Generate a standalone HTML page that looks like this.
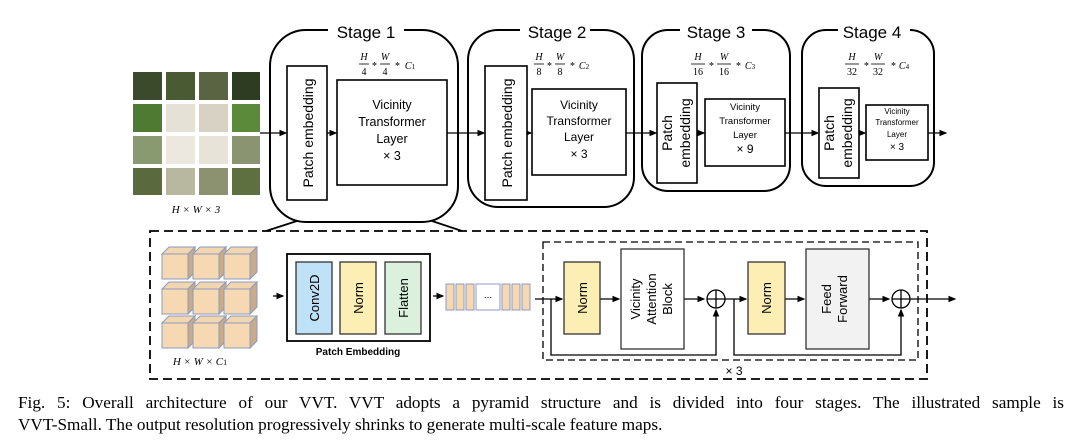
<!DOCTYPE html>
<html><head><style>
body{margin:0;background:#fff;width:1080px;height:448px;overflow:hidden}
svg{position:absolute;left:0;top:0}
.cap{position:absolute;left:18px;width:1046px;font-family:"Liberation Serif",serif;font-size:17.2px;text-align:justify;text-align-last:justify;white-space:nowrap}
</style></head><body>
<svg width="1080" height="448" viewBox="0 0 1080 448" font-family="Liberation Sans, sans-serif">
<defs><marker id="a" markerWidth="6" markerHeight="6" refX="5" refY="3" orient="auto"><path d="M0,0.5 L6,3 L0,5.5z" fill="#000"/></marker></defs>
<g fill="none" stroke="#000" stroke-width="2">
<rect x="270" y="30" width="188" height="192" rx="36"/>
<rect x="468" y="30" width="166" height="177" rx="30"/>
<rect x="642" y="30" width="148" height="161" rx="26"/>
<rect x="802" y="30" width="132" height="156" rx="24"/>
</g>
<g fill="#fff"><rect x="328" y="20" width="76" height="18"/><rect x="520" y="20" width="70" height="18"/><rect x="680" y="20" width="72" height="18"/><rect x="838" y="20" width="72" height="18"/></g>
<g font-size="17" text-anchor="middle"><text x="366" y="38">Stage 1</text><text x="557" y="38">Stage 2</text><text x="716" y="38">Stage 3</text><text x="872" y="38">Stage 4</text></g>
<g font-family="Liberation Serif,serif" font-style="italic" font-size="10" text-anchor="middle">
<text x="364" y="60">H</text><text x="364" y="75" font-style="normal">4</text><line x1="359" y1="64" x2="369" y2="64" stroke="#000" stroke-width=".8"/><text x="374" y="69">*</text>
<text x="385" y="60">W</text><text x="385" y="75" font-style="normal">4</text><line x1="380" y1="64" x2="390" y2="64" stroke="#000" stroke-width=".8"/><text x="397" y="69">*</text><text x="410" y="69">C<tspan font-size="7" font-style="normal">1</tspan></text>
<text x="539" y="60">H</text><text x="539" y="75" font-style="normal">8</text><line x1="534" y1="64" x2="544" y2="64" stroke="#000" stroke-width=".8"/><text x="549" y="69">*</text>
<text x="560" y="60">W</text><text x="560" y="75" font-style="normal">8</text><line x1="555" y1="64" x2="565" y2="64" stroke="#000" stroke-width=".8"/><text x="572" y="69">*</text><text x="584" y="69">C<tspan font-size="7" font-style="normal">2</tspan></text>
<text x="698" y="60">H</text><text x="698" y="75" font-style="normal">16</text><line x1="691" y1="64" x2="705" y2="64" stroke="#000" stroke-width=".8"/><text x="711" y="69">*</text>
<text x="724" y="60">W</text><text x="724" y="75" font-style="normal">16</text><line x1="717" y1="64" x2="731" y2="64" stroke="#000" stroke-width=".8"/><text x="738" y="69">*</text><text x="750" y="69">C<tspan font-size="7" font-style="normal">3</tspan></text>
<text x="852" y="60">H</text><text x="852" y="75" font-style="normal">32</text><line x1="845" y1="64" x2="859" y2="64" stroke="#000" stroke-width=".8"/><text x="866" y="69">*</text>
<text x="878" y="60">W</text><text x="878" y="75" font-style="normal">32</text><line x1="871" y1="64" x2="885" y2="64" stroke="#000" stroke-width=".8"/><text x="893" y="69">*</text><text x="904" y="69">C<tspan font-size="7" font-style="normal">4</tspan></text>
</g>
<!-- image -->
<g>
<rect x="133" y="72" width="29" height="28" fill="#3b4a2a"/><rect x="166" y="72" width="29" height="28" fill="#4a5a33"/><rect x="199" y="72" width="29" height="28" fill="#5a6442"/><rect x="232" y="72" width="28" height="28" fill="#2e3c22"/>
<rect x="133" y="104" width="29" height="28" fill="#4e7a32"/><rect x="166" y="104" width="29" height="28" fill="#e6e1d6"/><rect x="199" y="104" width="29" height="28" fill="#d8d2c4"/><rect x="232" y="104" width="28" height="28" fill="#5a8a3a"/>
<rect x="133" y="136" width="29" height="28" fill="#8a9a70"/><rect x="166" y="136" width="29" height="28" fill="#ece8df"/><rect x="199" y="136" width="29" height="28" fill="#e8e3d8"/><rect x="232" y="136" width="28" height="28" fill="#8a9470"/>
<rect x="133" y="168" width="29" height="27" fill="#5a6a3e"/><rect x="166" y="168" width="29" height="27" fill="#b8b8a0"/><rect x="199" y="168" width="29" height="27" fill="#8c9270"/><rect x="232" y="168" width="28" height="27" fill="#5e7040"/>
</g>
<text x="196" y="213" font-family="Liberation Serif,serif" font-style="italic" font-size="11" text-anchor="middle">H × W  × 3</text>
<g fill="none" stroke="#000" stroke-width="1.3">
<line x1="260" y1="133" x2="286" y2="133" marker-end="url(#a)"/>
<line x1="327" y1="133" x2="336" y2="133" marker-end="url(#a)"/>
<line x1="447" y1="133" x2="484" y2="133" marker-end="url(#a)"/>
<line x1="527" y1="133" x2="531" y2="133" marker-end="url(#a)"/>
<line x1="626" y1="133" x2="656" y2="133" marker-end="url(#a)"/>
<line x1="697" y1="133" x2="704" y2="133" marker-end="url(#a)"/>
<line x1="785" y1="133" x2="818" y2="133" marker-end="url(#a)"/>
<line x1="859" y1="133" x2="865" y2="133" marker-end="url(#a)"/>
<line x1="928" y1="133" x2="946" y2="133" marker-end="url(#a)"/>
</g>
<g fill="#fff" stroke="#000" stroke-width="1.6">
<rect x="287" y="66" width="40" height="134"/><rect x="337" y="80" width="110" height="105"/>
<rect x="485" y="66" width="42" height="134"/><rect x="532" y="89" width="94" height="86"/>
<rect x="657" y="83" width="40" height="100"/><rect x="705" y="99" width="80" height="67"/>
<rect x="819" y="88" width="40" height="90"/><rect x="866" y="105" width="62" height="55"/>
</g>
<g text-anchor="middle">
<text transform="translate(313,133) rotate(-90)" font-size="14">Patch embedding</text>
<text transform="translate(512,133) rotate(-90)" font-size="14">Patch embedding</text>
<text transform="translate(672,133) rotate(-90)" font-size="14">Patch</text><text transform="translate(690,133) rotate(-90)" font-size="14">embedding</text>
<text transform="translate(834,133) rotate(-90)" font-size="14">Patch</text><text transform="translate(852,133) rotate(-90)" font-size="14">embedding</text>
<g font-size="12.5"><text x="392" y="109">Vicinity</text><text x="392" y="126">Transformer</text><text x="392" y="143">Layer</text><text x="392" y="160">× 3</text></g>
<g font-size="12"><text x="579" y="109">Vicinity</text><text x="579" y="125">Transformer</text><text x="579" y="141">Layer</text><text x="579" y="158">× 3</text></g>
<g font-size="9.5"><text x="745" y="110">Vicinity</text><text x="745" y="124">Transformer</text><text x="745" y="138">Layer</text><text x="745" y="153" font-size="12">× 9</text></g>
<g font-size="8"><text x="897" y="114">Vicinity</text><text x="897" y="125">Transformer</text><text x="897" y="137">Layer</text><text x="897" y="150" font-size="10">× 3</text></g>
</g>
<!-- zoom lines -->
<g stroke="#000" stroke-width="1.8"><line x1="297" y1="221" x2="266" y2="231"/><line x1="432" y1="221" x2="462" y2="231"/></g>
<!-- bottom -->
<g fill="none" stroke="#000" stroke-width="1.8" stroke-dasharray="9,5">
<rect x="150" y="231" width="777" height="148"/>
</g>
<g fill="none" stroke="#000" stroke-width="1.3" stroke-dasharray="7,4">
<rect x="543" y="242" width="375" height="118"/>
</g>
<!-- cubes -->
<g stroke="#8d9bc0" stroke-width="1">
<g id="c"><path d="M162,254 l7,-7 h26 l-7,7z" fill="#f1d6b0"/><path d="M188,254 l7,-7 v25 l-7,7z" fill="#c9ab88"/><rect x="162" y="254" width="26" height="25" fill="#f6d9b2"/></g>
<use href="#c" x="31"/><use href="#c" x="62"/>
<use href="#c" y="35"/><use href="#c" x="31" y="35"/><use href="#c" x="62" y="35"/>
<use href="#c" y="69"/><use href="#c" x="31" y="69"/><use href="#c" x="62" y="69"/>
</g>
<text x="200" y="365" font-family="Liberation Serif,serif" font-style="italic" font-size="11" text-anchor="middle">H × W  × C<tspan font-size="8" font-style="normal">1</tspan></text>
<g stroke="#000" stroke-width="1.3" fill="none">
<line x1="273" y1="296" x2="283" y2="296" marker-end="url(#a)"/>
<line x1="433" y1="296" x2="443" y2="296" marker-end="url(#a)"/>
<line x1="535" y1="299" x2="562" y2="299" marker-end="url(#a)"/>
<line x1="600" y1="299" x2="619" y2="299" marker-end="url(#a)"/>
<line x1="684" y1="299" x2="704" y2="299" marker-end="url(#a)"/>
<line x1="725" y1="299" x2="746" y2="299" marker-end="url(#a)"/>
<line x1="785" y1="299" x2="804" y2="299" marker-end="url(#a)"/>
<line x1="869" y1="299" x2="889" y2="299" marker-end="url(#a)"/>
<line x1="910" y1="299" x2="955" y2="299" marker-end="url(#a)"/>
<polyline points="551,299 551,355 716,355 716,310" marker-end="url(#a)"/>
<polyline points="734,299 734,355 901,355 901,310" marker-end="url(#a)"/>
<circle cx="716" cy="299" r="9"/><line x1="707" y1="299" x2="725" y2="299"/><line x1="716" y1="290" x2="716" y2="308"/>
<circle cx="901" cy="299" r="9"/><line x1="892" y1="299" x2="910" y2="299"/><line x1="901" y1="290" x2="901" y2="308"/>
</g>
<rect x="287" y="254" width="143" height="87" fill="#fff" stroke="#000" stroke-width="1.8"/>
<g stroke="#333" stroke-width="1.3">
<rect x="296" y="262" width="36" height="72" fill="#bfe2f8"/>
<rect x="340" y="262" width="36" height="72" fill="#fdeeb4"/>
<rect x="385" y="262" width="36" height="72" fill="#dbf1dd"/>
<rect x="564" y="262" width="36" height="72" fill="#fdeeb4"/>
<rect x="748" y="262" width="37" height="72" fill="#fdeeb4"/>
<rect x="621" y="249" width="63" height="100" fill="#fff"/>
<rect x="806" y="249" width="63" height="100" fill="#f2f2f2"/>
</g>
<text x="358" y="355" font-size="10" font-weight="bold" text-anchor="middle">Patch Embedding</text>
<g font-size="13" text-anchor="middle">
<text transform="translate(319,298) rotate(-90)">Conv2D</text>
<text transform="translate(363,298) rotate(-90)">Norm</text>
<text transform="translate(408,298) rotate(-90)">Flatten</text>
<text transform="translate(587,298) rotate(-90)">Norm</text>
<text transform="translate(771,298) rotate(-90)">Norm</text>
<text transform="translate(640,299) rotate(-90)">Vicinity</text>
<text transform="translate(656,299) rotate(-90)">Attention</text>
<text transform="translate(672,299) rotate(-90)">Block</text>
<text transform="translate(831,299) rotate(-90)">Feed</text>
<text transform="translate(847,299) rotate(-90)">Forward</text>
</g>
<text x="734" y="375" font-size="12" text-anchor="middle">× 3</text>
<!-- tokens -->
<g stroke="#8d9bc0" stroke-width="1" fill="#f6d9b2">
<rect x="446" y="284" width="8" height="26"/><rect x="456" y="284" width="8" height="26"/><rect x="466" y="284" width="8" height="26"/>
<rect x="476" y="284" width="24" height="26" fill="#fff"/>
<rect x="502" y="284" width="8" height="26"/><rect x="512" y="284" width="8" height="26"/><rect x="522" y="284" width="8" height="26"/>
</g>
<text x="488" y="298" font-size="10" text-anchor="middle">...</text>
</svg>
<div class="cap" style="top:393px">Fig. 5: Overall architecture of our VVT. VVT adopts a pyramid structure and is divided into four stages. The illustrated sample is</div>
<div class="cap" style="top:415px;text-align-last:left">VVT-Small. The output resolution progressively shrinks to generate multi-scale feature maps.</div>
</body></html>
